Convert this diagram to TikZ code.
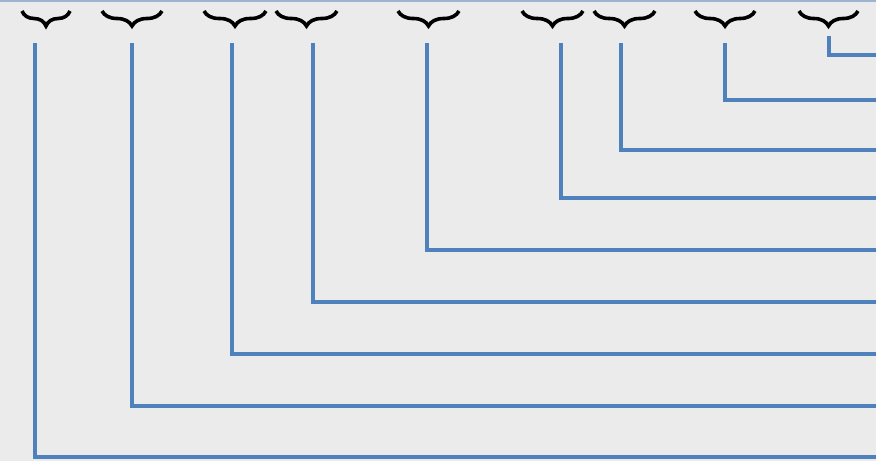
\documentclass[tikz,border=0pt]{standalone}
\usetikzlibrary{decorations.pathreplacing}
\definecolor{bg}{HTML}{EBEBEB}
\definecolor{lineblue}{HTML}{4F81BD}
\definecolor{topline}{HTML}{9DB3CF}
\tikzset{
  bracket/.style={draw=black,line width=3.6pt,decorate,decoration={brace,mirror,amplitude=15pt,aspect=0.5}},
  link/.style={draw=lineblue,line width=4pt,line join=miter},
}
\begin{document}
\begin{tikzpicture}[x=1pt,y=-1pt]
\fill[bg] (0,0) rectangle (876,461);
\useasboundingbox (0,0) rectangle (876,461);
\draw[topline,line width=1.5pt] (0,0.75) -- (876,0.75);
% braces
\foreach \a/\b [count=\i] in {22/70,102/162,204/266,276/337,398/459,522/583,594/655,695/755,799/858}{
  \coordinate (l\i) at (\a,11);
  \coordinate (r\i) at (\b,11);
  \draw[bracket] (l\i) -- (r\i);
}
% connector start and end points
\foreach \x/\ys/\ye [count=\i] in {35/43/457,132/43/406,232/43/354,313/43/302,427/43/250,561/43/198,621/43/150,725/43/100,829/36/55}{
  \coordinate (s\i) at (\x,\ys);
  \coordinate (e\i) at (878,\ye);
}
\foreach \i in {1,...,9}{
  \draw[link] (s\i) |- (e\i);
}
\end{tikzpicture}
\end{document}
